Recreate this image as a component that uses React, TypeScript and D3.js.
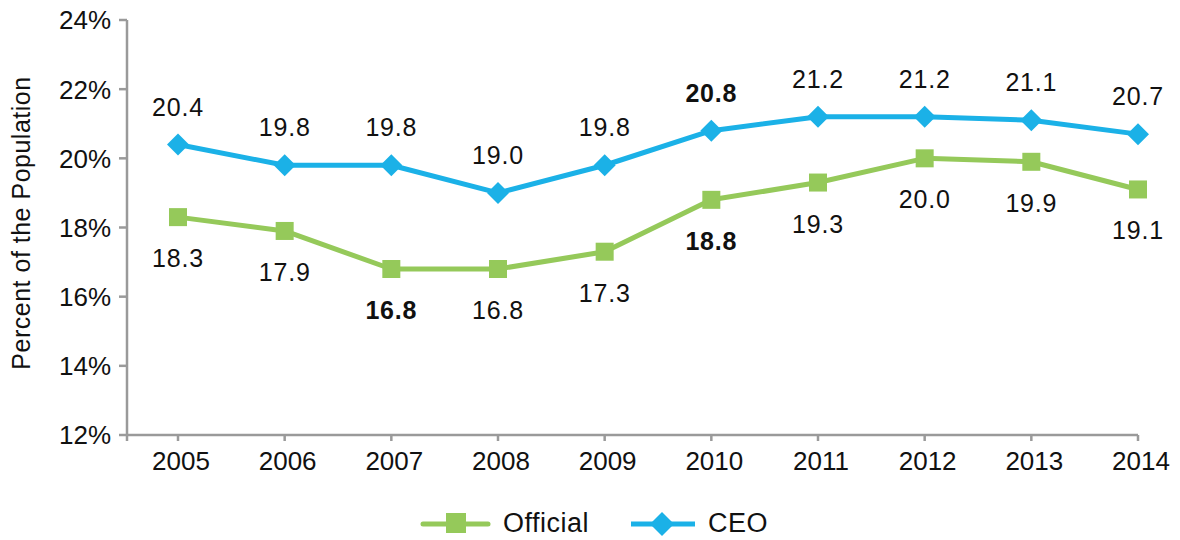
import React from 'react';
import * as d3 from 'd3';

const years = ['2005', '2006', '2007', '2008', '2009', '2010', '2011', '2012', '2013', '2014'];
const officialValues = [18.3, 17.9, 16.8, 16.8, 17.3, 18.8, 19.3, 20.0, 19.9, 19.1];
const ceoValues = [20.4, 19.8, 19.8, 19.0, 19.8, 20.8, 21.2, 21.2, 21.1, 20.7];
const yTicks = [12, 14, 16, 18, 20, 22, 24];
// labels drawn in bold
const boldOfficial = ['2007', '2010'];
const boldCeo = ['2010'];

const GREEN = '#95c95a';
const BLUE = '#1bb1e7';
const AXIS = '#9a9a9a';
const FONT = '"Liberation Sans", Arial, Helvetica, sans-serif';

const width = 1180;
const height = 540;
const axisLeft = 127;

const App = () => {
  const x = d3.scalePoint<string>().domain(years).range([178, 1138]);
  const y = d3.scaleLinear().domain([12, 24]).range([435, 20]);
  const line = d3.line<number>()
    .x((_, i) => x(years[i]) as number)
    .y(d => y(d));

  const diamond = (cx: number, cy: number, r: number) =>
    `M${cx},${cy - r}L${cx + r},${cy}L${cx},${cy + r}L${cx - r},${cy}Z`;

  return (
    <svg width={width} height={height} style={{ position: 'absolute', left: 0, top: 0, background: '#fff' }}
      fontFamily={FONT}>
      {/* y axis */}
      <line x1={axisLeft} x2={axisLeft} y1={y(24)} y2={y(12)} stroke={AXIS} strokeWidth={2.5} />
      {yTicks.map(t => (
        <g key={t}>
          <line x1={axisLeft - 8} x2={axisLeft} y1={y(t)} y2={y(t)} stroke={AXIS} strokeWidth={2.5} />
          <text x={111} y={y(t)} dy="0.36em" textAnchor="end" fontSize={26} fill="#111">{t}%</text>
        </g>
      ))}
      <text transform={`translate(30,223) rotate(-90)`} textAnchor="middle"
        fontSize={25} letterSpacing={0.5} fill="#111">Percent of the Population</text>

      {/* x axis */}
      <line x1={axisLeft} x2={x('2014')} y1={y(12)} y2={y(12)} stroke={AXIS} strokeWidth={2.5} />
      <line x1={axisLeft} x2={axisLeft} y1={y(12)} y2={y(12) + 6} stroke={AXIS} strokeWidth={2.5} />
      {years.map(yr => (
        <g key={yr}>
          <line x1={x(yr)} x2={x(yr)} y1={y(12)} y2={y(12) + 6} stroke={AXIS} strokeWidth={2.5} />
          <text x={(x(yr) as number) + 3} y={470} textAnchor="middle" fontSize={26} fill="#111">{yr}</text>
        </g>
      ))}

      {/* Official series */}
      <path d={line(officialValues) || ''} fill="none" stroke={GREEN} strokeWidth={5} strokeLinejoin="round" />
      {officialValues.map((v, i) => (
        <rect key={i} x={(x(years[i]) as number) - 9} y={y(v) - 9} width={18} height={18} fill={GREEN} />
      ))}
      {officialValues.map((v, i) => (
        <text key={i} x={x(years[i])} y={y(v) + 50} textAnchor="middle" fontSize={25} letterSpacing={0.8}
          fontWeight={boldOfficial.includes(years[i]) ? 'bold' : 'normal'} fill="#111">{v.toFixed(1)}</text>
      ))}

      {/* CEO series */}
      <path d={line(ceoValues) || ''} fill="none" stroke={BLUE} strokeWidth={5} strokeLinejoin="round" />
      {ceoValues.map((v, i) => (
        <path key={i} d={diamond(x(years[i]) as number, y(v), 11)} fill={BLUE} />
      ))}
      {ceoValues.map((v, i) => (
        <text key={i} x={x(years[i])} y={y(v) - 29} textAnchor="middle" fontSize={25} letterSpacing={0.8}
          fontWeight={boldCeo.includes(years[i]) ? 'bold' : 'normal'} fill="#111">{v.toFixed(1)}</text>
      ))}

      {/* legend */}
      <g>
        <line x1={423} x2={488} y1={524} y2={524} stroke={GREEN} strokeWidth={5} strokeLinecap="round" />
        <rect x={446} y={513} width={20} height={20} fill={GREEN} />
        <text x={503} y={532} fontSize={27} letterSpacing={0.5} fill="#111">Official</text>
        <line x1={631} x2={695} y1={524} y2={524} stroke={BLUE} strokeWidth={5} />
        <path d={diamond(662, 524, 12)} fill={BLUE} />
        <text x={708} y={532} fontSize={27} letterSpacing={0.5} fill="#111">CEO</text>
      </g>
    </svg>
  );
};

export default App;
